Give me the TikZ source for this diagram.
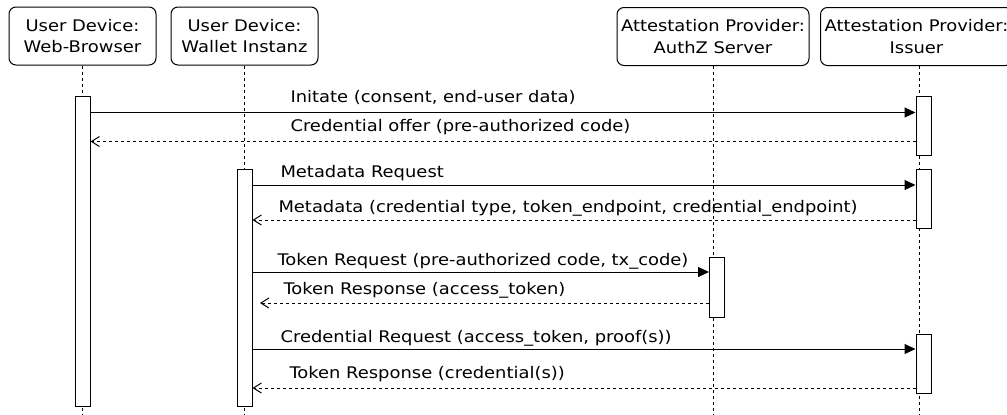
\documentclass[tikz,border=0pt]{standalone}
\usepackage{fontspec}
\setmainfont[FakeStretch=1.12]{DejaVu Sans}
\usetikzlibrary{arrows.meta}

\tikzset{
  actor/.style={draw,rounded corners=7pt,minimum height=58pt,align=center,inner sep=0pt},
  lifeline/.style={dash pattern=on 3pt off 3pt},
  bar/.style={draw,fill=white,minimum width=15pt,inner sep=0pt},
  call/.style={-{Triangle[length=11pt,width=10pt]}},
  reply/.style={dash pattern=on 3pt off 3pt,-{Straight Barb[length=8pt,width=10pt]}},
  msg/.style={anchor=base west,inner sep=0pt},
}

\begin{document}
\begin{tikzpicture}[x=1pt,y=-1pt,line width=1pt,font=\fontsize{16}{21.5}\selectfont]
        \useasboundingbox (0,0) rectangle (1007,415);
        %% Participants
        \node[actor,minimum width=147pt] (wb) at (82.5,36) {User Device:\\Web-Browser};
        \node[actor,minimum width=147pt] (wl) at (244.5,36) {User Device:\\Wallet Instanz};
        \node[actor,minimum width=192pt] (az) at (713,36.5) {Attestation Provider:\\AuthZ Server};
        \node[actor,minimum width=192pt] (is) at (916.5,36.5) {Attestation Provider:\\Issuer};
        %% Lifelines
        \foreach \p in {wb,wl,az}
            \draw[lifeline] (\p.south) -- (\p.south |- 0,415);
        \draw[lifeline] ([xshift=2.5pt]is.south) -- ([xshift=2.5pt]is.south |- 0,415);
        %% Activation bars
        \node[bar,minimum height=310pt] (wbA) at (82.5,251) {};
        \node[bar,minimum height=237pt] (wlA) at (244.5,287.5) {};
        \node[bar,minimum height=60pt] (azA) at (717,287) {};
        \node[bar,minimum height=59pt] (isA) at (923.5,125.5) {};
        \node[bar,minimum height=59pt] (isB) at (923.5,198.5) {};
        \node[bar,minimum height=59pt] (isC) at (923.5,363.5) {};
        %% Message heights
        \coordinate (m1) at (0,112.5);
        \coordinate (m2) at (0,141.5);
        \coordinate (m3) at (0,185);
        \coordinate (m4) at (0,220);
        \coordinate (m5) at (0,272);
        \coordinate (m6) at (260,303);
        \coordinate (m7) at (0,349);
        \coordinate (m8) at (0,388);
        %% Messages
        \draw[call] (wbA.east |- m1) -- (isA.west |- m1);
        \node[msg] (t1) at (290,102.7) {Initate (consent, end-user data)};
        \draw[reply] (isA.west |- m2) -- (wbA.east |- m2);
        \node[msg] (t2) at (290,131.7) {Credential offer (pre-authorized code)};
        \draw[call] (wlA.east |- m3) -- (isB.west |- m3);
        \node[msg] (t3) at (280,177) {Metadata Request};
        \draw[reply] (isB.west |- m4) -- (wlA.east |- m4);
        \node[msg] (t4) at (278,212) {Metadata (credential type, token\_endpoint, credential\_endpoint)};
        \draw[call] (wlA.east |- m5) -- (azA.west |- m5);
        \node[msg] (t5) at (277,265) {Token Request (pre-authorized code, tx\_code)};
        \draw[reply] (azA.west |- m6) -- (m6);
        \node[msg] (t6) at (283,294) {Token Response (access\_token)};
        \draw[call] (wlA.east |- m7) -- (isC.west |- m7);
        \node[msg] (t7) at (280,342) {Credential Request (access\_token, proof(s))};
        \draw[reply] (isC.west |- m8) -- (wlA.east |- m8);
        \node[msg] (t8) at (289,378) {Token Response (credential(s))};
\end{tikzpicture}
\end{document}
